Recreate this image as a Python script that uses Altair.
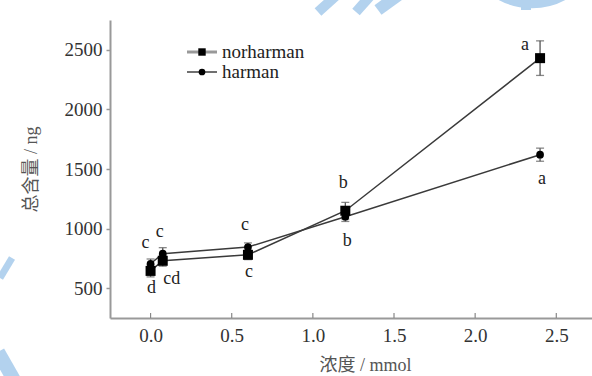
import altair as alt
import pandas as pd

# ---- data ----
conc = [0.0, 0.075, 0.6, 1.2, 2.4]
norharman = [645, 730, 780, 1150, 2430]
norharman_err = [50, 45, 40, 70, 145]
harman = [705, 790, 845, 1100, 1620]
harman_err = [40, 50, 35, 40, 55]
norharman_letters = ["d", "cd", "c", "b", "a"]
harman_letters = ["c", "c", "c", "b", "a"]
norharman_place = ["below", "below_right", "below", "above_hi", "upper_left"]
harman_place = ["above_left", "above", "above", "below_far", "below_far"]
x_ticks = [0.0, 0.5, 1.0, 1.5, 2.0, 2.5]
y_ticks = [500, 1000, 1500, 2000, 2500]

# label offsets (pixels) per placement
OFF = {
    "below": (1, 17),
    "below_right": (9, 18),
    "below_far": (2, 24),
    "above": (-3, -22),
    "above_hi": (-2, -28),
    "above_left": (-5, -21),
    "upper_left": (-15, -13),
}

W, H = 482, 298
SERIF = "Liberation Serif, Times New Roman, serif"
TITLE_FONT = "Liberation Serif, Noto Sans CJK SC, serif"
WM = "#b3d2ee"

rows = []
for s, vals, errs, labs, pl in [
    ("norharman", norharman, norharman_err, norharman_letters, norharman_place),
    ("harman", harman, harman_err, harman_letters, harman_place),
]:
    for c, v, e, l, p in zip(conc, vals, errs, labs, pl):
        rows.append(dict(series=s, conc=c, val=v, lo=v - e, hi=v + e, letter=l, place=p))
df = pd.DataFrame(rows)

xs = alt.Scale(domain=[-0.25, 2.72], nice=False, zero=False)
ys = alt.Scale(domain=[250, 2750], nice=False, zero=False)

X = alt.X("conc:Q", scale=xs,
          axis=alt.Axis(values=x_ticks, format=".1f", title="浓度 / mmol", ticks=False,
                        labelPadding=8, titlePadding=11, titleX=255, titleAnchor="middle"))
Y = alt.Y("val:Q", scale=ys,
          axis=alt.Axis(values=y_ticks, format="d", title="总含量 / ng", tickSize=4,
                        labelPadding=4, titlePadding=24))

base = alt.Chart(df)

# watermark decorations (background)
wm = []
for x1, y1, x2, y2, sw in [
    (-110, 258, -98, 238, 7),
    (-112, 332, -96, 360, 14),
    (208, -8, 228, -26, 10),
    (246, -8, 262, -26, 10),
    (268, -10, 290, -26, 12),
    (416, -10, 416, -22, 10),
]:
    wm.append(alt.Chart(df.head(1)).mark_rule(color=WM, strokeWidth=sw).encode(
        x=alt.value(x1), y=alt.value(y1), x2=alt.value(x2), y2=alt.value(y2)))
wm.append(alt.Chart(df.head(1)).mark_point(shape="circle", filled=False, color=WM,
                                            strokeWidth=10, size=17000, opacity=1).encode(
    x=alt.value(422), y=alt.value(-82)))

lines = base.mark_line(color="#3a3a3a", strokeWidth=1.5).encode(x=X, y=Y, detail="series:N")
err = base.mark_rule(color="#555", strokeWidth=1.3).encode(x="conc:Q", y="lo:Q", y2="hi:Q")
cap_lo = base.mark_tick(color="#555", orient="horizontal", size=8, thickness=1.3).encode(
    x="conc:Q", y="lo:Q")
cap_hi = base.mark_tick(color="#555", orient="horizontal", size=8, thickness=1.3).encode(
    x="conc:Q", y="hi:Q")
sq = base.transform_filter(alt.datum.series == "norharman").mark_point(
    shape="square", filled=True, color="black", size=100, opacity=1).encode(x="conc:Q", y="val:Q")
ci = base.transform_filter(alt.datum.series == "harman").mark_point(
    shape="circle", filled=True, color="black", size=60, opacity=1).encode(x="conc:Q", y="val:Q")

# inward x ticks
tick_df = pd.DataFrame({"t": x_ticks})
xt = alt.Chart(tick_df).mark_rule(color="#888", strokeWidth=1.2).encode(
    x=alt.X("t:Q", scale=xs), y=alt.value(H), y2=alt.value(H - 5))

labels = []
for pname, (dx, dy) in OFF.items():
    labels.append(base.transform_filter(alt.datum.place == pname).mark_text(
        font=SERIF, fontSize=18, color="#222", dx=dx, dy=dy, baseline="middle", align="center"
    ).encode(x="conc:Q", y="val:Q", text="letter:N"))

# legend
leg = []
for lx, ly, txt, shp, lc, lw, msz in [
    (77, 32, "norharman", "square", "#999", 3, 55),
    (77, 52, "harman", "circle", "#222", 1.3, 45),
]:
    leg.append(alt.Chart(df.head(1)).mark_rule(color=lc, strokeWidth=lw).encode(
        x=alt.value(lx), x2=alt.value(lx + 30), y=alt.value(ly)))
    leg.append(alt.Chart(df.head(1)).mark_point(shape=shp, filled=True, color="black",
                                                size=msz, opacity=1).encode(
        x=alt.value(lx + 15), y=alt.value(ly)))
    leg.append(alt.Chart(df.head(1)).mark_text(font=SERIF, fontSize=19, color="#222",
                                               align="left", baseline="middle").encode(
        x=alt.value(lx + 35), y=alt.value(ly), text=alt.value(txt)))

chart = alt.layer(*wm, lines, err, cap_lo, cap_hi, sq, ci, xt, *labels, *leg).properties(
    width=W, height=H,
    background="white",
    autosize=alt.AutoSizeParams(type="none"),
    padding={"left": 110, "top": 20, "right": 0, "bottom": 58},
).configure_view(stroke=None).configure_axis(
    grid=False,
    domainColor="#999", domainWidth=2, tickColor="#999", tickWidth=1.5,
    labelFont=SERIF, labelFontSize=19, labelColor="#333",
    titleFont=TITLE_FONT, titleFontSize=18, titleColor="#555", titleFontWeight="normal",
)

chart.save("out.html", embed_options={"renderer": "svg", "actions": False})
